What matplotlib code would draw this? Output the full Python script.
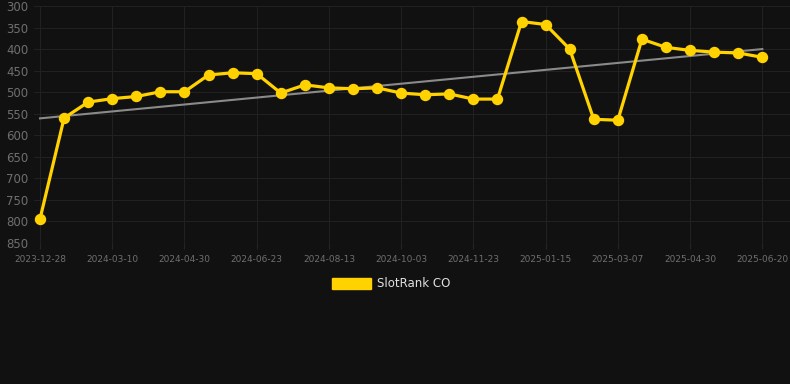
import numpy as np
import matplotlib.pyplot as plt
from matplotlib.patches import Patch

# rank values, one point per snapshot (lower = better)
ranks = [794, 560, 523, 515, 510, 499, 499, 460, 455, 457,
         502, 483, 490, 492, 490, 502, 506, 504, 516, 516,
         336, 343, 400, 563, 565, 377, 396, 403, 407, 409, 419]
# only every third snapshot is labelled on the axis
tick_labels = ['2023-12-28', '2024-03-10', '2024-04-30', '2024-06-23',
               '2024-08-13', '2024-10-03', '2024-11-23', '2025-01-15',
               '2025-03-07', '2025-04-30', '2025-06-20']
y_ticks = [300, 350, 400, 450, 500, 550, 600, 650, 700, 750, 800, 850]

bg = '#111111'
gold = '#FFD200'

x = np.arange(len(ranks))
fig = plt.figure(figsize=(7.9, 3.84), dpi=100, facecolor=bg)
ax = fig.add_axes([34 / 790, 141 / 384, 756 / 790, 237 / 384], facecolor=bg)

# trend line (least squares fit of the rank series)
k, b = np.polyfit(x, ranks, 1)
ax.plot(x, k * x + b, color='#8a8a8a', lw=1.5, zorder=2)

ax.plot(x, ranks, color=gold, lw=2.3, marker='o', ms=7.2, zorder=3)

ax.set_ylim(850, 300)
ax.set_yticks(y_ticks)
ax.set_xlim(-0.25, len(ranks) - 1 + 1.15)
ax.set_xticks(x[::3])
ax.set_xticklabels(tick_labels)

ax.grid(True, color='#212121', lw=0.8)
for s in ax.spines.values():
    s.set_visible(False)
ax.tick_params(axis='y', colors='#6f6f6f', labelsize=8.5, length=0, pad=4)
ax.tick_params(axis='x', colors='#252525', labelcolor='#6f6f6f',
               labelsize=6.5, length=4, pad=5)

# legend shows a filled box rather than a line sample
ax.legend(handles=[Patch(color=gold, label='SlotRank CO')], loc='upper center',
          bbox_to_anchor=(0.472, -0.1), frameon=False, handlelength=3.3,
          handleheight=1.0, handletextpad=0.5, fontsize=8.5, labelcolor='#e0e0e0')

fig.savefig('out.png', facecolor=bg)
